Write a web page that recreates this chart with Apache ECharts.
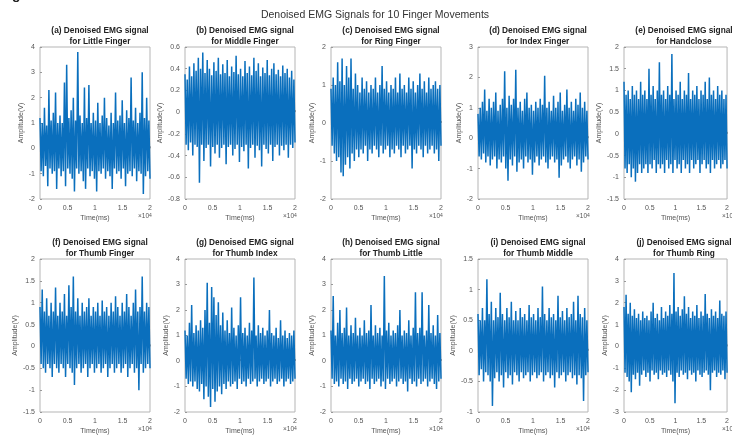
<!DOCTYPE html>
<html><head><meta charset="utf-8">
<script src="https://cdn.jsdelivr.net/npm/echarts@6/dist/echarts.min.js"></script>
<style>html,body{margin:0;padding:0;background:#fff}#c{width:732px;height:439px}</style>
</head><body><div id="c"></div>
<script>
// Signal samples (alternating positive / negative excursions)
const sigLittle = [1.2,-0.9,1.0,-1.1,1.6,-0.7,0.9,-1.5,2.3,-0.8,1.1,-1.0,1.4,-0.9,2.2,-1.6,1.0,-0.8,1.3,-1.1,
  1.0,-0.9,2.6,-1.5,3.3,-0.8,1.2,-1.0,1.5,-1.2,2.0,-1.7,1.1,-0.8,3.8,-1.0,1.3,-0.9,1.0,-1.3,
  2.4,-1.6,1.2,-0.8,2.5,-1.1,1.0,-0.9,1.4,-1.2,1.1,-1.7,1.8,-0.9,1.0,-1.0,1.3,-0.8,2.0,-1.2,
  1.2,-0.9,0.9,-1.1,1.4,-1.6,1.0,-0.8,2.2,-1.0,1.1,-0.9,1.3,-1.2,1.9,-0.8,1.0,-1.5,1.5,-1.0,
  1.2,-0.9,2.8,-1.1,1.1,-0.8,1.6,-1.3,1.0,-0.9,1.4,-1.0,3.0,-1.8,1.2,-1.1,2.0,-0.9,1.1,-1.2];
const sigMiddle = [0.35,-0.30,0.30,-0.35,0.42,-0.28,0.33,-0.40,0.45,-0.30,0.38,-0.32,0.50,-0.65,0.40,-0.30,0.55,-0.45,0.36,-0.33,
  0.48,-0.30,0.40,-0.50,0.34,-0.32,0.46,-0.38,0.38,-0.30,0.50,-0.42,0.35,-0.33,0.44,-0.30,0.36,-0.48,0.48,-0.32,
  0.33,-0.30,0.42,-0.40,0.37,-0.34,0.52,-0.30,0.35,-0.46,0.40,-0.32,0.33,-0.36,0.47,-0.30,0.36,-0.52,0.42,-0.33,
  0.34,-0.30,0.50,-0.42,0.38,-0.31,0.45,-0.35,0.33,-0.50,0.41,-0.30,0.36,-0.34,0.48,-0.38,0.34,-0.30,0.40,-0.45,
  0.45,-0.32,0.35,-0.30,0.39,-0.40,0.33,-0.31,0.43,-0.35,0.36,-0.30,0.40,-0.42,0.32,-0.30,0.38,-0.33,0.30,-0.28];
const sigRing = [0.9,-0.6,1.2,-0.8,1.0,-1.0,1.6,-0.9,1.1,-1.3,1.7,-1.4,1.0,-1.1,1.5,-0.9,1.2,-1.2,1.7,-0.8,
  0.9,-1.0,1.3,-0.7,1.0,-0.9,0.8,-0.7,1.2,-0.8,0.9,-0.6,1.1,-1.0,0.8,-0.7,1.0,-0.8,0.9,-0.6,
  1.2,-0.7,0.8,-0.9,1.0,-0.6,1.5,-0.8,0.9,-0.7,1.1,-0.6,0.8,-0.9,1.0,-0.7,0.9,-0.8,1.2,-0.6,
  0.8,-0.7,1.3,-0.9,0.9,-0.6,1.0,-0.8,0.8,-0.7,1.2,-0.6,0.9,-1.2,1.1,-0.7,0.8,-0.8,1.0,-0.6,
  1.3,-0.7,0.9,-0.9,1.1,-0.6,0.8,-0.8,1.2,-0.7,0.9,-0.6,1.0,-0.8,1.1,-0.7,0.9,-1.0,1.0,-0.6];
const sigIndex = [0.8,-0.6,1.0,-0.7,1.2,-0.5,1.6,-0.8,0.9,-0.6,1.3,-0.9,1.0,-0.7,1.2,-0.6,1.5,-1.0,0.9,-0.7,
  1.1,-0.8,1.3,-0.6,2.2,-1.0,1.0,-1.4,1.4,-0.7,1.1,-0.9,1.3,-0.6,2.25,-1.1,1.0,-0.8,1.2,-0.7,
  0.9,-1.0,1.3,-0.6,1.5,-0.8,1.0,-0.7,1.1,-1.2,0.9,-0.8,1.2,-0.6,1.0,-0.9,1.3,-0.7,1.1,-0.6,
  2.05,-0.8,1.0,-1.0,1.2,-0.7,0.9,-0.6,1.4,-0.8,1.0,-0.7,1.2,-1.3,1.5,-0.9,0.9,-0.7,1.1,-0.6,
  1.6,-0.8,1.0,-1.0,1.2,-0.7,0.9,-0.6,1.3,-0.9,1.1,-0.7,1.5,-1.1,1.0,-0.8,1.2,-0.6,0.9,-0.7];
const sigHandclose = [1.2,-0.8,0.9,-0.9,1.0,-0.7,0.8,-1.0,1.1,-0.8,0.9,-1.1,1.0,-0.9,0.8,-0.7,1.2,-0.9,0.9,-0.8,
  1.0,-0.7,0.8,-0.9,1.5,-0.7,0.9,-0.8,1.1,-0.6,0.8,-0.9,1.0,-0.7,1.65,-0.8,0.9,-0.7,1.0,-0.9,
  0.8,-0.6,1.1,-0.8,0.9,-0.7,1.84,-0.9,0.8,-0.6,1.0,-0.8,0.9,-0.7,1.2,-0.9,0.8,-0.6,1.0,-0.8,
  0.9,-0.7,1.4,-0.9,0.8,-0.6,1.0,-0.8,0.9,-0.7,1.1,-0.6,0.8,-0.9,1.0,-0.7,0.9,-0.6,1.2,-0.8,
  0.8,-0.7,1.3,-0.9,0.9,-0.6,1.0,-0.8,0.8,-0.7,1.1,-0.6,0.9,-0.8,1.0,-0.7,0.8,-0.6,0.9,-0.8];
const sigThumb = [0.9,-0.4,1.3,-0.5,0.8,-0.6,1.1,-0.4,0.7,-0.5,1.0,-0.7,0.8,-0.4,1.35,-0.5,0.7,-0.6,1.0,-0.4,
  0.8,-0.5,1.2,-0.7,0.7,-0.4,1.4,-0.5,0.9,-0.6,1.6,-0.88,0.8,-0.5,1.1,-0.4,0.7,-0.6,1.0,-0.5,
  0.8,-0.4,0.9,-0.7,1.1,-0.5,0.7,-0.4,0.9,-0.6,0.8,-0.5,1.0,-0.4,0.7,-0.6,1.05,-0.5,0.8,-0.4,
  0.9,-0.7,0.7,-0.5,1.0,-0.4,0.8,-0.6,1.15,-0.5,0.9,-0.4,0.7,-0.6,1.0,-0.5,0.8,-0.4,1.2,-0.7,
  0.9,-0.5,0.7,-0.4,1.0,-0.6,1.3,-0.5,0.8,-1.0,0.9,-0.4,1.6,-0.6,0.8,-0.5,1.0,-0.4,0.9,-0.5];
const sigThumbIndex = [1.2,-0.7,1.0,-0.9,1.5,-0.8,2.2,-1.0,1.1,-0.8,1.4,-1.1,1.2,-1.2,1.6,-0.9,1.3,-1.5,2.0,-1.0,
  3.07,-1.4,1.5,-1.8,2.9,-1.1,2.5,-1.6,1.8,-1.2,2.3,-1.0,1.4,-1.3,1.9,-0.9,1.2,-1.1,1.6,-0.8,
  1.1,-1.0,2.1,-0.9,1.3,-0.8,1.0,-1.1,1.4,-0.7,2.5,-0.9,1.1,-0.8,1.3,-1.0,1.0,-0.7,1.5,-0.9,
  1.2,-0.8,3.27,-0.7,1.0,-1.0,1.4,-0.8,1.1,-0.7,1.3,-0.9,1.0,-0.8,1.2,-0.7,2.0,-1.0,1.1,-0.8,
  1.0,-0.7,1.3,-0.9,0.9,-0.8,1.6,-0.7,1.0,-1.0,1.2,-0.8,0.9,-0.7,1.1,-0.9,1.0,-0.8,1.2,-0.7];
const sigThumbLittle = [1.2,-0.7,2.55,-0.9,1.0,-0.8,1.5,-1.0,2.0,-0.7,1.1,-0.9,1.3,-0.8,2.1,-1.1,1.0,-0.7,1.4,-0.9,
  1.1,-0.8,1.7,-0.7,1.0,-1.0,1.3,-0.8,1.0,-0.7,1.6,-0.9,1.1,-0.8,1.2,-1.1,2.2,-0.7,1.0,-0.9,
  1.4,-0.8,1.1,-0.7,1.3,-1.0,1.0,-0.8,3.33,-1.1,1.2,-0.7,1.5,-0.9,1.0,-0.8,1.2,-0.7,1.1,-1.0,
  1.4,-0.8,2.0,-0.7,1.0,-0.9,1.2,-0.8,1.1,-1.2,1.6,-0.7,1.0,-0.9,1.3,-0.8,2.7,-1.0,1.1,-0.7,
  1.3,-0.9,2.7,-0.8,1.0,-0.7,1.2,-1.0,2.2,-0.8,1.1,-0.7,1.4,-0.9,1.0,-1.1,1.8,-0.8,1.1,-0.7];
const sigThumbMiddle = [0.6,-0.4,0.5,-0.3,0.7,-0.5,0.5,-0.35,1.17,-0.4,0.6,-0.5,0.8,-0.9,0.5,-0.45,0.7,-0.35,0.55,-0.5,
  0.95,-0.4,0.6,-0.6,0.5,-0.35,0.7,-0.45,0.55,-0.4,0.8,-0.55,0.5,-0.35,0.65,-0.4,0.5,-0.5,0.7,-0.35,
  0.55,-0.45,0.6,-0.4,0.5,-0.35,0.75,-0.5,0.55,-0.4,0.6,-0.35,0.5,-0.45,0.7,-0.4,0.55,-0.35,1.05,-0.5,
  0.6,-0.4,0.5,-0.35,0.7,-0.45,0.55,-0.4,0.6,-0.6,0.5,-0.35,0.9,-0.45,0.55,-0.4,0.65,-0.35,0.5,-0.5,
  0.7,-0.4,0.55,-0.35,0.6,-0.45,0.8,-0.4,0.5,-0.55,0.9,-0.4,0.6,-0.45,0.55,-0.82,0.7,-0.4,0.5,-0.35];
const sigThumbRing = [1.8,-1.2,2.36,-1.4,1.5,-1.6,2.0,-2.1,1.4,-1.3,1.7,-1.5,1.3,-1.2,1.5,-1.8,1.2,-1.3,1.6,-1.1,
  1.3,-1.4,1.4,-1.2,1.2,-1.6,1.6,-1.1,2.0,-1.3,1.3,-1.2,1.5,-1.5,1.2,-1.1,1.8,-1.3,1.3,-1.2,
  1.6,-1.4,1.4,-1.1,1.9,-1.3,1.5,-1.6,3.36,-2.6,1.6,-1.2,1.8,-1.4,1.4,-1.1,1.7,-1.3,2.3,-1.2,
  1.5,-1.5,1.8,-1.1,1.3,-1.3,1.6,-1.2,1.4,-1.6,1.9,-1.1,1.3,-1.3,1.6,-1.4,1.4,-1.2,2.4,-1.1,
  1.5,-1.3,1.3,-2.0,1.7,-1.2,1.4,-1.1,1.6,-1.4,1.3,-1.2,2.1,-1.3,1.5,-1.1,1.4,-1.5,1.6,-1.2];

const signals = [sigLittle, sigMiddle, sigRing, sigIndex, sigHandclose,
                 sigThumb, sigThumbIndex, sigThumbLittle, sigThumbMiddle, sigThumbRing];
const titleLines = [
  ['(a) Denoised EMG signal','for Little Finger'],
  ['(b) Denoised EMG signal','for Middle Finger'],
  ['(c) Denoised EMG signal','for Ring Finger'],
  ['(d) Denoised EMG signal','for Index Finger'],
  ['(e) Denoised EMG signal','for Handclose'],
  ['(f) Denoised EMG signal','for Thumb Finger'],
  ['(g) Denoised EMG signal','for Thumb Index'],
  ['(h) Denoised EMG signal','for Thumb Little'],
  ['(i) Denoised EMG signal','for Thumb Middle'],
  ['(j) Denoised EMG signal','for Thumb Ring']
];
const yMin  = [-2,-0.8,-2,-2,-1.5,-1.5,-2,-2,-1,-3];
const yMax  = [4, 0.6, 2, 3, 2,   2,   4, 4, 1.5,4];
const yStep = [1, 0.2, 1, 1, 0.5, 0.5, 1, 1, 0.5,1];
const xMax = 20000, xStep = 5000, xScale = 10000;
const mainTitle = 'Denoised EMG Signals for 10 Finger Movements';
const xName = 'Time(ms)', yName = 'Amplitude(V)';

// layout
const colLeft = [40,185,331,478,624];
const plotW = 110;
const rowTop = [47,259];
const plotH = [152,153];
const FONT = '"Liberation Sans", Arial, Helvetica, sans-serif';

const grids=[],xAxes=[],yAxes=[],series=[],titles=[],graphics=[];
titles.push({text: mainTitle, left: 370, top: 5, textAlign:'center',
  textStyle:{fontSize:10.5, fontWeight:'normal', color:'#333', fontFamily:FONT}});
graphics.push({type:'text', left:12, top:-12, style:{text:'g', fontSize:14, fontWeight:'bold', fill:'#222', fontFamily:FONT}});
signals.forEach((sig,k)=>{
  const r = Math.floor(k/5), c = k%5;
  const L = colLeft[c], T = rowTop[r], H = plotH[r];
  grids.push({left:L, top:T, width:plotW, height:H, show:true, borderColor:'#b5b5b5', borderWidth:1, backgroundColor:'#fff'});
  xAxes.push({gridIndex:k, type:'value', min:0, max:xMax, interval:xStep,
    axisLine:{show:false}, splitLine:{show:false},
    axisTick:{show:true, inside:true, length:2, lineStyle:{color:'#999'}},
    axisLabel:{fontSize:7, color:'#555', margin:6, fontFamily:FONT, formatter:v=>String(+(v/xScale).toFixed(1))},
    name:xName, nameLocation:'middle', nameGap:16, nameTextStyle:{fontSize:7, color:'#555', fontFamily:FONT}});
  yAxes.push({gridIndex:k, type:'value', min:yMin[k], max:yMax[k], interval:yStep[k],
    axisLine:{show:false}, splitLine:{show:false},
    axisTick:{show:true, inside:true, length:2, lineStyle:{color:'#999'}},
    axisLabel:{fontSize:7, color:'#555', margin:5, fontFamily:FONT, formatter:v=>String(+v.toFixed(1))},
    name:yName, nameLocation:'middle', nameGap:15, nameTextStyle:{fontSize:7, color:'#555', fontFamily:FONT}});
  const n = sig.length;
  series.push({type:'line', xAxisIndex:k, yAxisIndex:k, showSymbol:false, animation:false, sampling:null,
    data: sig.map((v,i)=>[i*xMax/(n-1), v]),
    lineStyle:{color:'#0a6fbd', width:1.5}, silent:true});
  titles.push({text: titleLines[k][0]+'\n'+titleLines[k][1], left: L+plotW/2, top: T-27, textAlign:'center',
    textStyle:{fontSize:8.3, fontWeight:'bold', color:'#222', lineHeight:11, fontFamily:FONT}});
  graphics.push({type:'text', left:L+plotW-12, top:T+H+14,
    style:{text:'×10{s|4}', rich:{s:{fontSize:5, verticalAlign:'top', fill:'#555'}}, fontSize:6.5, fill:'#555', fontFamily:FONT}});
});
const chart = echarts.init(document.getElementById('c'), null, {renderer:'canvas'});
chart.setOption({animation:false, title:titles, grid:grids, xAxis:xAxes, yAxis:yAxes, series:series, graphic:graphics});
</script></body></html>
